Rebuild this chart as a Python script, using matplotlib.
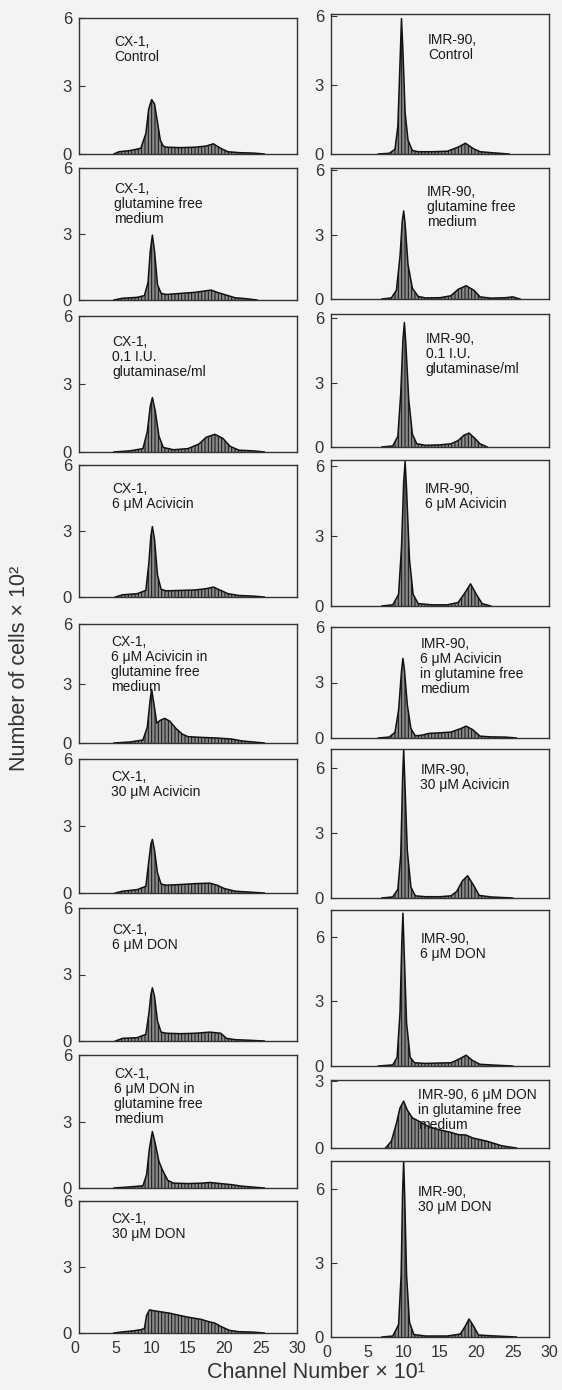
import matplotlib.pyplot as plt

plt.rcParams['font.family'] = ['Liberation Sans', 'DejaVu Sans']
plt.rcParams['hatch.linewidth'] = 0.7

# --- dados (canal x10, numero de celulas x100) ---
# CX-1
cx_control_x = [4.8, 5.5, 7, 8.5, 9.2, 9.6, 10.0, 10.4, 10.8, 11.2, 11.6, 12, 14, 16, 17.5, 18.5, 19.5, 20.5, 22, 24, 25.5]
cx_control_y = [0, 0.1, 0.15, 0.25, 0.9, 2.0, 2.4, 2.2, 1.4, 0.6, 0.35, 0.3, 0.28, 0.3, 0.35, 0.45, 0.25, 0.1, 0.06, 0.04, 0]
cx_glnfree_x = [4.8, 6, 8, 9.0, 9.5, 9.8, 10.1, 10.4, 10.8, 11.3, 12, 14, 16, 17.5, 18.2, 19, 20, 21.5, 23, 24.5]
cx_glnfree_y = [0, 0.08, 0.12, 0.2, 0.8, 2.2, 2.95, 2.2, 0.7, 0.3, 0.25, 0.3, 0.35, 0.42, 0.45, 0.35, 0.25, 0.1, 0.06, 0]
cx_glnase_x = [4.8, 7, 8.8, 9.4, 9.8, 10.1, 10.5, 11.0, 11.6, 13, 15, 16.5, 17.5, 18.7, 19.8, 20.8, 22, 24, 25.5]
cx_glnase_y = [0, 0.05, 0.15, 0.9, 2.0, 2.4, 1.8, 0.7, 0.2, 0.1, 0.15, 0.35, 0.65, 0.78, 0.6, 0.25, 0.08, 0.05, 0]
cx_aci6_x = [5.0, 6, 8, 9.2, 9.6, 9.9, 10.1, 10.4, 10.8, 11.3, 12, 14, 16, 17.5, 18.5, 19.5, 20.5, 22, 24, 25.5]
cx_aci6_y = [0, 0.1, 0.15, 0.3, 1.5, 2.8, 3.2, 2.6, 1.0, 0.35, 0.28, 0.3, 0.32, 0.38, 0.45, 0.3, 0.15, 0.07, 0.04, 0]
cx_aci6gf_x = [4.8, 7, 8.8, 9.4, 9.8, 10.0, 10.3, 10.7, 11.2, 11.8, 12.5, 13.3, 14.2, 15, 17, 19, 21, 22.5, 24, 25.5]
cx_aci6gf_y = [0, 0.05, 0.15, 0.8, 2.2, 2.7, 2.0, 1.0, 1.15, 1.24, 1.1, 0.75, 0.45, 0.32, 0.28, 0.25, 0.2, 0.1, 0.05, 0]
cx_aci30_x = [5.0, 6, 8, 9.2, 9.6, 9.9, 10.1, 10.4, 10.8, 11.3, 12, 14, 16, 18, 19, 20, 21.5, 23, 25.5]
cx_aci30_y = [0, 0.08, 0.15, 0.3, 1.4, 2.2, 2.4, 1.9, 0.9, 0.4, 0.35, 0.38, 0.42, 0.44, 0.35, 0.2, 0.08, 0.05, 0]
cx_don6_x = [5.0, 6, 8, 9.2, 9.6, 9.9, 10.1, 10.4, 10.8, 11.3, 12, 14, 16, 18, 19.5, 20.3, 21.5, 23, 25.5]
cx_don6_y = [0, 0.12, 0.15, 0.3, 1.2, 2.1, 2.4, 2.0, 0.9, 0.4, 0.35, 0.33, 0.35, 0.4, 0.35, 0.12, 0.06, 0.04, 0]
cx_don6gf_x = [4.8, 7, 8.8, 9.3, 9.7, 10.1, 10.5, 11.0, 11.5, 12.2, 13, 15, 17, 18, 19.5, 21, 22.5, 24, 25.5]
cx_don6gf_y = [0, 0.05, 0.1, 0.6, 1.8, 2.55, 2.0, 1.2, 0.8, 0.35, 0.22, 0.2, 0.22, 0.25, 0.2, 0.15, 0.08, 0.04, 0]
cx_don30_x = [4.8, 6, 7.5, 8.5, 9.0, 9.3, 9.7, 10.5, 11.5, 12.5, 13.8, 15, 16.8, 18, 18.7, 19.5, 20.7, 22, 24, 25.5]
cx_don30_y = [0, 0.05, 0.1, 0.15, 0.2, 0.8, 1.05, 1.0, 0.95, 0.9, 0.8, 0.72, 0.62, 0.5, 0.45, 0.3, 0.12, 0.06, 0.04, 0]

# IMR-90
imr_control_x = [6.5, 8, 8.8, 9.2, 9.5, 9.7, 9.9, 10.2, 10.6, 11.2, 12, 14, 16, 17.5, 18.5, 19.5, 20.5, 22, 24.5]
imr_control_y = [0, 0.03, 0.2, 1.2, 4.0, 5.9, 4.5, 1.8, 0.6, 0.15, 0.1, 0.1, 0.12, 0.3, 0.47, 0.25, 0.1, 0.06, 0]
imr_glnfree_x = [7, 8.3, 9.0, 9.5, 9.8, 10.0, 10.2, 10.6, 11.2, 12.0, 13, 15, 16.5, 17.5, 18.6, 19.7, 20.5, 22, 24, 25, 26]
imr_glnfree_y = [0, 0.05, 0.4, 2.0, 3.6, 4.1, 3.5, 1.6, 0.5, 0.12, 0.05, 0.06, 0.15, 0.45, 0.62, 0.4, 0.1, 0.04, 0.06, 0.1, 0]
imr_glnase_x = [7, 8.5, 9.2, 9.6, 9.9, 10.1, 10.3, 10.7, 11.2, 11.8, 13, 15, 16.5, 17.5, 18.3, 19.0, 19.8, 20.5, 21.5]
imr_glnase_y = [0, 0.05, 0.5, 2.5, 5.0, 5.8, 4.8, 2.2, 0.6, 0.15, 0.08, 0.1, 0.15, 0.3, 0.55, 0.65, 0.4, 0.15, 0]
imr_aci6_x = [7, 8.5, 9.3, 9.7, 10.0, 10.2, 10.4, 10.8, 11.3, 12, 14, 16, 17.5, 18.4, 19.2, 20.0, 20.8, 22]
imr_aci6_y = [0, 0.05, 0.5, 2.5, 5.3, 6.2, 5.0, 2.0, 0.5, 0.1, 0.05, 0.05, 0.15, 0.55, 0.95, 0.5, 0.1, 0]
imr_aci6gf_x = [6.5, 8.0, 8.8, 9.3, 9.7, 9.9, 10.1, 10.5, 11.0, 11.6, 12.5, 13.5, 15, 16.5, 17.8, 18.6, 19.5, 20.5, 22, 24, 25.5]
imr_aci6gf_y = [0, 0.05, 0.3, 1.5, 3.6, 4.3, 3.7, 1.8, 0.5, 0.12, 0.15, 0.25, 0.28, 0.32, 0.5, 0.64, 0.45, 0.1, 0.06, 0.05, 0]
imr_aci30_x = [7, 8.5, 9.2, 9.6, 9.85, 10.0, 10.15, 10.5, 11.0, 11.6, 13, 15, 16.5, 17.3, 18.1, 18.8, 19.6, 20.4, 22, 25]
imr_aci30_y = [0, 0.05, 0.4, 2.0, 5.5, 6.9, 5.5, 2.2, 0.5, 0.1, 0.06, 0.06, 0.1, 0.3, 0.8, 1.03, 0.6, 0.12, 0.05, 0]
imr_don6_x = [6.5, 8.5, 9.1, 9.5, 9.75, 9.9, 10.05, 10.4, 10.9, 11.5, 13, 15, 16.5, 17.5, 18.6, 19.5, 20.5, 22, 25]
imr_don6_y = [0, 0.05, 0.4, 2.5, 5.8, 7.1, 5.5, 2.0, 0.4, 0.15, 0.12, 0.14, 0.15, 0.3, 0.5, 0.25, 0.08, 0.05, 0]
imr_don6gf_x = [7.5, 8.3, 9.0, 9.5, 10.0, 10.5, 11.2, 12.1, 13.5, 15.1, 16.5, 17.5, 18.6, 19.5, 21.5, 23.5, 25.5]
imr_don6gf_y = [0, 0.3, 1.1, 1.8, 2.1, 1.7, 1.35, 1.2, 0.95, 0.8, 0.7, 0.6, 0.58, 0.45, 0.3, 0.1, 0]
imr_don30_x = [7, 8.5, 9.3, 9.65, 9.85, 10.0, 10.15, 10.4, 10.8, 11.4, 13, 16, 17.8, 18.5, 19.0, 19.6, 20.3, 22, 25.5]
imr_don30_y = [0, 0.04, 0.5, 2.5, 5.8, 7.13, 5.6, 2.5, 0.6, 0.1, 0.04, 0.04, 0.12, 0.45, 0.73, 0.45, 0.08, 0.05, 0]

cx_labels = ['CX-1,\nControl', 'CX-1,\nglutamine free\nmedium', 'CX-1,\n0.1 I.U.\nglutaminase/ml',
             'CX-1,\n6 μM Acivicin', 'CX-1,\n6 μM Acivicin in\nglutamine free\nmedium', 'CX-1,\n30 μM Acivicin',
             'CX-1,\n6 μM DON', 'CX-1,\n6 μM DON in\nglutamine free\nmedium', 'CX-1,\n30 μM DON']
imr_labels = ['IMR-90,\nControl', 'IMR-90,\nglutamine free\nmedium', 'IMR-90,\n0.1 I.U.\nglutaminase/ml',
              'IMR-90,\n6 μM Acivicin', 'IMR-90,\n6 μM Acivicin\nin glutamine free\nmedium', 'IMR-90,\n30 μM Acivicin',
              'IMR-90,\n6 μM DON', 'IMR-90, 6 μM DON\nin glutamine free\nmedium', 'IMR-90,\n30 μM DON']
x_ticks = [0, 5, 10, 15, 20, 25, 30]

cx_series = [(cx_control_x, cx_control_y), (cx_glnfree_x, cx_glnfree_y), (cx_glnase_x, cx_glnase_y),
             (cx_aci6_x, cx_aci6_y), (cx_aci6gf_x, cx_aci6gf_y), (cx_aci30_x, cx_aci30_y),
             (cx_don6_x, cx_don6_y), (cx_don6gf_x, cx_don6gf_y), (cx_don30_x, cx_don30_y)]
imr_series = [(imr_control_x, imr_control_y), (imr_glnfree_x, imr_glnfree_y), (imr_glnase_x, imr_glnase_y),
              (imr_aci6_x, imr_aci6_y), (imr_aci6gf_x, imr_aci6gf_y), (imr_aci30_x, imr_aci30_y),
              (imr_don6_x, imr_don6_y), (imr_don6gf_x, imr_don6gf_y), (imr_don30_x, imr_don30_y)]

# --- layout (pixels: topo da caixa, linha do zero) ---
W, H = 562, 1390
cx_box = [(18, 154), (168, 300), (316, 452), (465, 597), (624, 743),
          (759, 893), (908, 1041), (1055, 1188), (1201, 1333)]
imr_box = [(14, 154), (168, 299), (314, 447), (460, 606), (627, 738),
           (749, 898), (910, 1066), (1080, 1148), (1161, 1337)]
cx_ylim = [6.0] * 9
imr_ylim = [6.1, 6.1, 6.2, 6.26, 6.0, 6.9, 7.25, 3.05, 7.13]
cx_text_pos = [(0.16, 0.875), (0.16, 0.894), (0.153, 0.86), (0.153, 0.87), (0.148, 0.91),
               (0.148, 0.92), (0.153, 0.89), (0.16, 0.91), (0.15, 0.917)]
imr_text_pos = [(0.446, 0.864), (0.44, 0.87), (0.434, 0.865), (0.43, 0.85), (0.41, 0.91),
                (0.41, 0.906), (0.41, 0.86), (0.40, 0.88), (0.40, 0.864)]

bg = '#f3f3f1'
fig = plt.figure(figsize=(W / 100, H / 100), dpi=100, facecolor=bg)


def painel(x0, x1, box, ylim, serie, texto, tpos, last):
    top, zero = box
    ax = fig.add_axes([x0 / W, 1 - zero / H, (x1 - x0) / W, (zero - top) / H])
    ax.set_facecolor(bg)
    xs, ys = serie
    ax.fill_between(xs, 0, ys, facecolor='#8a8a8a', edgecolor='#111111', hatch='|||||', linewidth=0.0)
    ax.plot(xs, ys, color='#111111', lw=1.1)
    ax.set_xlim(0, 30)
    ax.set_ylim(0, ylim)
    ax.set_yticks([0, 3, 6] if ylim > 5 else [0, 3])
    ax.tick_params(axis='y', direction='in', length=4, width=0.8, pad=5, labelsize=12, colors='#333333')
    ax.set_xticks(x_ticks)
    ax.tick_params(axis='x', length=0, pad=6, labelsize=11.5, colors='#333333')
    if last:
        lbls = ax.set_xticklabels([str(t) for t in x_ticks])
        lbls[0].set_horizontalalignment('right')
    else:
        ax.set_xticklabels([])
    for s in ax.spines.values():
        s.set_color('#333333')
        s.set_linewidth(1.0)
    ax.text(tpos[0], tpos[1], texto, transform=ax.transAxes, ha='left', va='top',
            fontsize=10, linespacing=1.1, color='#1a1a1a')
    return ax


for i in range(9):
    painel(79, 297, cx_box[i], cx_ylim[i], cx_series[i], cx_labels[i], cx_text_pos[i], i == 8)
    painel(331, 549, imr_box[i], imr_ylim[i], imr_series[i], imr_labels[i], imr_text_pos[i], i == 8)

fig.text(20 / W, 1 - 668 / H, 'Number of cells × 10²', rotation=90, ha='center', va='center',
         fontsize=15.5, color='#333333')
fig.text(316 / W, 1 - 1373 / H, 'Channel Number × 10¹', ha='center', va='center',
         fontsize=15.5, color='#333333')

plt.savefig('out.png', dpi=100, facecolor=bg)
